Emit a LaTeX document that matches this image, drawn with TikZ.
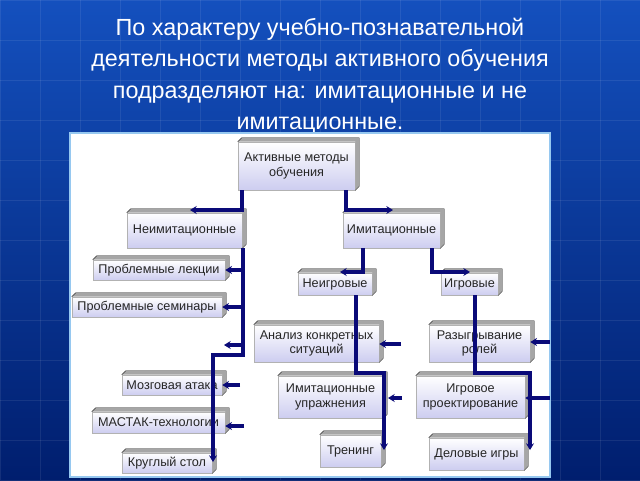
\documentclass[tikz,border=0pt]{standalone}
\usepackage{fontspec}
\setmainfont{Liberation Sans}
\usetikzlibrary{arrows.meta}
\definecolor{navy}{RGB}{10,10,120}
\definecolor{lav}{RGB}{205,205,240}
\newcommand{\mybox}[6]{%
  \node[box, minimum width={(#4-#2)*0.75pt}, minimum height={(#5-#3)*0.75pt}] (#1) at ({(#2+#4)/2},{(#3+#5)/2}) {#6};
  \fill[gray!70] (#1.north west) -- ++(4,-4) -- ([shift={(4,-4)}]#1.north east) -- ([shift={(4,-4)}]#1.south east) -- (#1.south east) -- (#1.north east) -- cycle;
  \draw[gray!40!black,line width=0.3pt] (#1.north west) -- ++(4,-4) -- ([shift={(4,-4)}]#1.north east) -- ([shift={(4,-4)}]#1.south east) -- (#1.south east);}
\begin{document}
\begin{tikzpicture}[x=0.75pt,y=-0.75pt,
  box/.style={draw=gray!60,line width=0.4pt,top color=white,bottom color=lav,inner sep=1pt,font=\fontsize{9.5}{11}\selectfont,align=center,text=black!85},
  con/.style={draw=navy,line width=2.4pt},
  arr/.style={con,-{Stealth[length=5pt,width=6pt]}}]
\useasboundingbox (0,0) rectangle (640,480);
\shade[top color={rgb,255:red,20;green,80;blue,190},bottom color={rgb,255:red,0;green,30;blue,110}] (0,0) rectangle (640,480);
\foreach \x in {0,40,...,640} \draw[white,opacity=0.08] (\x,0) -- (\x,480);
\foreach \y in {0,40,...,480} \draw[white,opacity=0.08] (0,\y) -- (640,\y);
\node[text=white,align=center,font=\fontsize{17.5}{23.5}\selectfont] (title) at (320,76) {По характеру учебно-познавательной\\деятельности методы активного обучения\\подразделяют на: имитационные и не\\имитационные.};
\fill[white,draw={rgb,255:red,150;green,200;blue,240},line width=1.5pt] (70,133) rectangle (550,477);
\mybox{am}{238}{142}{355}{190}{Активные методы\\обучения}
\mybox{ni}{127}{213}{242}{248}{Неимитационные}
\mybox{im}{343}{213}{440}{248}{Имитационные}
\mybox{pl}{93}{260}{225}{280}{Проблемные лекции}
\mybox{ps}{72}{297}{222}{317}{Проблемные семинары}
\mybox{ng}{298}{273}{372}{295}{Неигровые}
\mybox{ig}{441}{273}{498}{295}{Игровые}
\mybox{an}{254}{325}{379}{362}{Анализ конкретных\\ситуаций}
\mybox{rr}{429}{325}{530}{362}{Разыгрывание\\ролей}
\mybox{ma}{122}{375}{222}{395}{Мозговая атака}
\mybox{iu}{278}{376}{383}{418}{Имитационные\\упражнения}
\mybox{ip}{416}{376}{525}{418}{Игровое\\проектирование}
\mybox{mt}{92}{412}{225}{433}{МАСТАК-технологии}
\mybox{tr}{320}{435}{381}{467}{Тренинг}
\mybox{ks}{122}{453}{212}{473}{Круглый стол}
\mybox{dg}{429}{438}{524}{470}{Деловые игры}
% connectors
\coordinate (c1) at (190,210); \coordinate (c2) at (393,210);
\draw[arr] (242,190) |- (c1);
\draw[arr] (346,190) |- (c2);
\draw[con] (243,248) -- (243,355) -- (213,355);
\draw[arr] (213,353) -- (213,462);
\draw[arr] (243,270) coordinate (t1) -- (t1 -| pl.east);
\draw[arr] (243,307) coordinate (t2) -- (t2 -| ps.east);
\draw[arr] (241,345) -- (224,345);
\draw[arr] (240,385) coordinate (t3) -- (t3 -| ma.east);
\draw[arr] (244,426) coordinate (t4) -- (t4 -| mt.east);
\coordinate (c3) at (340,272); \coordinate (c4) at (470,272);
\draw[arr] (363,248) |- (c3);
\draw[arr] (432,248) |- (c4);
\draw[con] (356,295) -- (356,373) -- (384,373);
\draw[arr] (384,371) -- (384,450);
\draw[arr] (401,344) coordinate (t5) -- (t5 -| an.east);
\draw[arr] (402,398) -- (388,398);
\draw[con] (475,295) -- (475,373) -- (530,373);
\draw[arr] (530,371) -- (530,450);
\draw[arr] (550,342) coordinate (t6) -- (t6 -| rr.east);
\draw[arr] (550,398) coordinate (t7) -- (t7 -| ip.east);
\end{tikzpicture}
\end{document}
